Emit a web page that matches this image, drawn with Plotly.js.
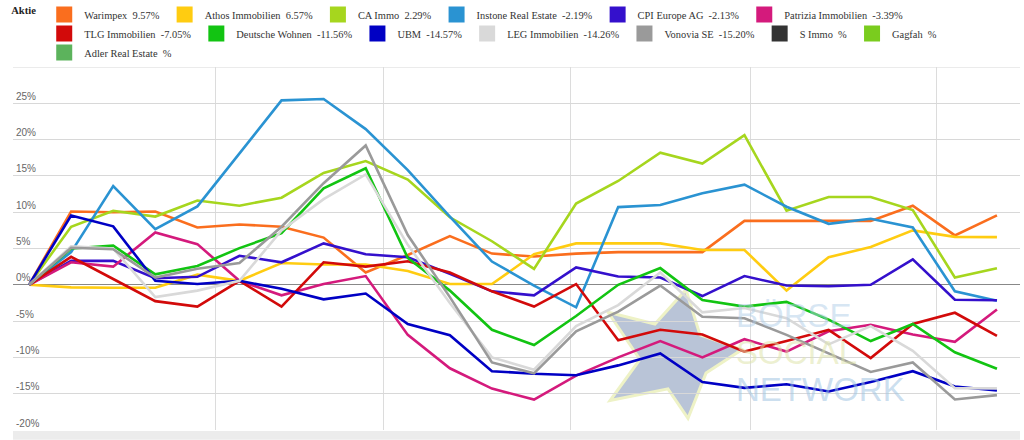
<!DOCTYPE html>
<html><head><meta charset="utf-8">
<script src="https://cdn.plot.ly/plotly-3.0.1.min.js"></script>
<style>html,body{margin:0;padding:0;background:#fff}#chart{width:1024px;height:440px}</style>
</head><body><div id="chart"></div>
<script>
// weekly dates
const dates = ["2019-01-01","2019-01-08","2019-01-15","2019-01-22","2019-01-29","2019-02-05","2019-02-12","2019-02-19","2019-02-26","2019-03-05","2019-03-12","2019-03-19","2019-03-26","2019-04-02","2019-04-09","2019-04-16","2019-04-23","2019-04-30","2019-05-07","2019-05-14","2019-05-21","2019-05-28","2019-06-04","2019-06-11"];
const monthTicks = ["2019-01-01","2019-02-01","2019-03-01","2019-04-01","2019-05-01","2019-06-01"];
const yTicks = [-20,-15,-10,-5,0,5,10,15,20,25];
const yTickText = ["-20%","-15%","-10%","-5%","0%","5%","10%","15%","20%","25%"];

const names = ["Warimpex","Athos Immobilien","CA Immo","Instone Real Estate","CPI Europe AG","Patrizia Immobilien","TLG Immobilien","Deutsche Wohnen","UBM","LEG Immobilien","Vonovia SE","S Immo","Gagfah","Adler Real Estate"];
const lastPerf = ["9.57","6.57","2.29","-2.19","-2.13","-3.39","-7.05","-11.56","-14.57","-14.26","-15.20","","",""];
const colors = ["#fa6e1e","#ffcc11","#a6d61e","#2a93d2","#3410cc","#d41a7c","#d20a0a","#12c412","#0000c4","#d9d9d9","#9a9a9a","#333333","#7acc1e","#5cb35c"];

const warimpex = [0,10.1,10.0,10.1,7.9,8.3,8.0,6.5,1.7,4.1,6.7,4.3,3.9,4.3,4.5,4.5,4.5,8.8,8.8,8.8,8.8,10.9,6.8,9.57];
const athos = [0,-0.35,-0.4,-0.4,1.4,0.55,3.0,2.8,2.8,1.9,0.1,0.1,4.2,5.7,5.7,5.7,4.8,4.8,-0.8,3.8,5.2,7.5,6.6,6.57];
const caImmo = [0,8.0,10.2,9.4,11.6,10.9,12.0,15.4,17.05,14.5,9.3,6.0,2.2,11.2,14.3,18.2,16.7,20.6,10.2,12.1,12.1,10.3,1.0,2.29];
const instone = [0,4.5,13.6,7.65,10.8,18.1,25.4,25.6,21.45,15.8,9.4,3.2,-0.1,-3.1,10.7,11.0,12.6,13.8,10.75,8.4,9.1,7.9,-0.9,-2.19];
const cpi = [0,3.3,3.3,0.9,1.1,4.0,3.1,5.7,4.2,3.8,1.5,-0.9,-1.45,2.4,1.15,1.0,-1.55,1.2,-0.1,-0.2,0.0,3.5,-2.05,-2.13];
const patrizia = [0,3.1,2.5,7.2,5.6,0.55,-1.45,0.1,1.2,-6.9,-11.5,-14.3,-15.8,-12.5,-10.0,-7.75,-10.0,-7.5,-9.2,-6.4,-5.5,-6.85,-7.85,-3.39];
const tlg = [0,3.85,0.8,-2.25,-3.0,0.55,-3.0,3.1,2.5,3.25,1.7,-0.9,-3.0,0.1,-7.65,-6.2,-6.85,-9.2,-7.75,-6.2,-10.1,-5.4,-3.85,-7.05];
const deutscheWohnen = [0,5.0,5.4,1.45,2.6,5.05,7.1,13.3,16.05,3.7,-0.8,-6.2,-8.3,-4.3,0.0,2.3,-2.1,-3.0,-2.35,-4.8,-7.75,-5.4,-9.3,-11.56];
const ubm = [0,9.55,8.05,0.55,0.1,0.55,-0.55,-2.0,-1.2,-5.4,-6.95,-11.9,-12.25,-12.45,-11.1,-9.45,-13.4,-14.2,-13.7,-14.7,-13.4,-11.9,-14.0,-14.57];
const leg = [0,5.3,5.0,-1.7,-0.8,0.55,7.5,11.8,15.2,5.5,-2.5,-10.0,-11.7,-5.7,-2.8,1.7,-3.8,-3.2,-4.6,-8.2,-5.7,-9.1,-14.25,-14.26];
const vonovia = [0,5.1,4.9,1.0,2.2,3.0,8.0,14.0,19.2,6.85,-1.7,-10.7,-12.2,-6.4,-3.7,-0.1,-4.4,-4.6,-6.9,-9.5,-12.0,-10.7,-15.8,-15.2];
const sImmo = [];
const gagfah = [];
const adler = [];

const seriesValues = [warimpex,athos,caImmo,instone,cpi,patrizia,tlg,deutscheWohnen,ubm,leg,vonovia,sImmo,gagfah,adler];

const traces = [];
// line traces (not in legend)
seriesValues.forEach((vals,i)=>{
  traces.push({
    type:'scatter', mode:'lines', x: dates.slice(0, vals.length), y: vals,
    name: names[i], legendgroup: 'g'+i, showlegend:false,
    line:{color:colors[i], width:2.6}, hoverinfo:'skip'
  });
});
// legend entries as squares
names.forEach((n,i)=>{
  traces.push({
    type:'scatter', mode:'markers', x:[null], y:[null],
    name: n + '\u00a0 ' + lastPerf[i] + '%', legendgroup:'g'+i,
    marker:{symbol:'square', size:16, color:colors[i]}, hoverinfo:'skip'
  });
});

// watermark geometry helpers (pixel -> paper)
const L=13, R=1020, T=60, B=430;
const px = v => (v-L)/(R-L);
const py = v => (B-v)/(B-T);
const starPts = [[608,310],[655,322],[686,287],[700,333],[742,348],[706,372],[688,418],[668,388],[610,400],[640,358]];
const starPath = 'M ' + starPts.map(p=>px(p[0]).toFixed(4)+','+py(p[1]).toFixed(4)).join(' L ') + ' Z';

const wmFont = {family:'Liberation Sans, sans-serif', size:33};
const layout = {
  width:1024, height:440,
  margin:{l:L, r:1024-R, t:T, b:440-B, pad:0},
  paper_bgcolor:'#fff', plot_bgcolor:'#fff',
  font:{family:'Liberation Sans, Arial, sans-serif', size:10, color:'#666'},
  showlegend:true,
  legend:{
    orientation:'h', xref:'container', yref:'container', x:0.009, y:1, xanchor:'left', yanchor:'top',
    font:{family:'Liberation Serif, Times New Roman, serif', size:10.4, color:'#333'},
    title:{text:'<b>Aktie</b>', side:'left', font:{family:'Liberation Serif, serif', size:10.6, color:'#222'}},
    itemwidth:30, tracegroupgap:0, bgcolor:'rgba(0,0,0,0)', itemclick:false
  },
  xaxis:{
    type:'date', range:['2018-12-29 08:00','2019-06-14 20:00'],
    tickvals: monthTicks, showticklabels:false, ticks:'',
    showgrid:true, gridcolor:'#dcdcdc', gridwidth:1, zeroline:false, showline:false, fixedrange:true
  },
  yaxis:{
    range:[-20,30], tickvals:yTicks, ticktext:yTickText, ticklabelposition:'inside top',
    ticks:'', showgrid:true, gridcolor:'#d8d8d8', gridwidth:1,
    zeroline:true, zerolinecolor:'#888', zerolinewidth:1, showline:false,
    tickfont:{family:'Liberation Sans Narrow, Liberation Sans, sans-serif', size:10, color:'#666'}, fixedrange:true
  },
  shapes:[
    {type:'line', xref:'paper', yref:'y', x0:0, x1:1, y0:30, y1:30, line:{color:'#d8d8d8', width:1}, layer:'below'},
    {type:'path', xref:'paper', yref:'paper', path: starPath, fillcolor:'#b9c4d7', line:{color:'#eef2c6', width:3}, layer:'below'},
    {type:'rect', xref:'paper', yref:'paper', x0:0, x1:1, y0:-10/370, y1:-1/370, fillcolor:'#ececec', line:{width:0}, layer:'below'}
  ],
  annotations:[
    {xref:'paper', yref:'paper', x:px(734), y:py(292), xanchor:'left', yanchor:'top', text:'BÖRSE', showarrow:false,
     font:Object.assign({color:'rgba(175,205,232,0.5)'}, wmFont)},
    {xref:'paper', yref:'paper', x:px(734), y:py(330), xanchor:'left', yanchor:'top', text:'SOCIAL', showarrow:false,
     font:Object.assign({color:'rgba(222,228,170,0.55)'}, wmFont)},
    {xref:'paper', yref:'paper', x:px(734), y:py(368), xanchor:'left', yanchor:'top', text:'NETWORK', showarrow:false,
     font:Object.assign({color:'rgba(160,196,226,0.55)'}, wmFont)}
  ]
};

Plotly.newPlot('chart', traces, layout, {staticPlot:true, displayModeBar:false});
</script>
</body></html>
